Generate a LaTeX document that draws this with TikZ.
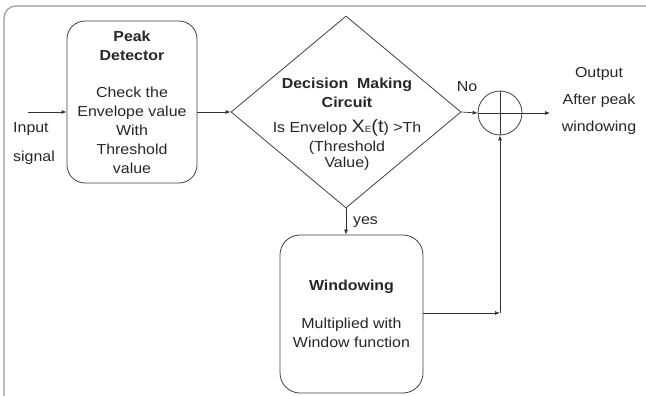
\documentclass[tikz,border=0pt]{standalone}
\usepackage{fontspec}
\setmainfont[FakeStretch=1.1]{Liberation Sans}
\usetikzlibrary{shapes.geometric,arrows.meta}
\begin{document}
\begin{tikzpicture}[x=1pt,y=-1pt,
  txt/.style={font=\fontsize{14.5}{19}\selectfont, align=center, inner sep=0pt, text=black!85},
  blk/.style={draw=black!75, line width=0.8pt, rounded corners=18pt},
  arr/.style={draw=black!80, line width=0.7pt, -{Latex[length=5pt,width=4pt]}},
  ln/.style={draw=black!80, line width=0.7pt}]
\useasboundingbox (0,0) rectangle (646,396);
\draw[black!40, line width=1.2pt, rounded corners=12pt] (4,410) -- (4,6) -- (670,6);

\node[blk, txt, minimum width=130pt, minimum height=162pt] (pd) at (132,102)
  {\textbf{Peak}\\\textbf{Detector}\\[18pt]Check the\\Envelope value\\With\\Threshold\\value};

\node[draw=black!75, line width=0.8pt, diamond, minimum width=230pt, minimum height=192pt, inner sep=0pt] (dm) at (346,112) {};
\node[txt] (dt) at (347,124)
  {\textbf{Decision\ \ Making}\\\textbf{Circuit}\\[6pt]Is Envelop {\fontsize{18}{19}\selectfont X}{\fontsize{9}{9}\selectfont E}{\fontsize{18}{19}\selectfont (t}) >Th\\(Threshold\\[-3pt]Value)};

\node[blk, txt, rounded corners=20pt, minimum width=143pt, minimum height=158pt] (win) at (351.5,314)
  {\textbf{Windowing}\\[19pt]Multiplied with\\Window function};

\node[draw=black!75, line width=0.8pt, circle, minimum size=44pt, inner sep=0pt] (sum) at (500,113) {};
\draw[ln] (sum.north) -- (sum.south);
\draw[ln] (sum.west) -- (sum.east);

\coordinate (in) at (28,112);
\coordinate (out) at (550,113);
\coordinate (cor) at (500,313);

\draw[arr] (in) -- (in -| pd.west);
\draw[arr] (pd.east |- dm.west) -- (dm.west);
\draw[arr] (dm.east) -- (sum.west);
\draw[arr] (sum.east) -- (out);
\draw[arr] (dm.south) -- (dm.south |- win.north);
\draw[arr] (win.east |- cor) -- (cor);
\draw[arr] (cor) -- (sum.south);

\node[txt, align=left, anchor=west, font=\fontsize{14.5}{29}\selectfont] (inl) at (13,144) {Input\\signal};
\node[txt, font=\fontsize{14.5}{27}\selectfont] (outl) at (599,101) {Output\\After peak\\windowing};
\node[txt] (nol) at (467,87) {No};
\node[txt] (yesl) at (365.5,222) {yes};
\end{tikzpicture}
\end{document}
